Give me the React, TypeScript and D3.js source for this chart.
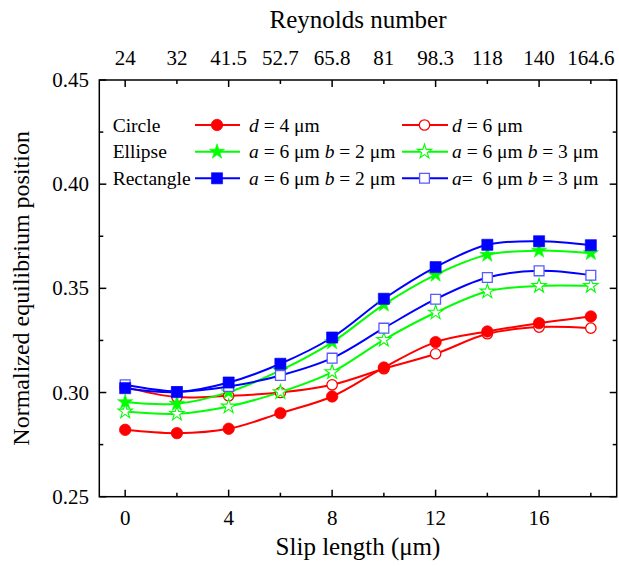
import React from "react";
import * as d3 from "d3";

// Slip length (µm) on the bottom axis, Reynolds number on the top axis
const slipLength = [0, 2, 4, 6, 8, 10, 12, 14, 16, 18];
const reynoldsLabels = ["24", "32", "41.5", "52.7", "65.8", "81", "98.3", "118", "140", "164.6"];

// Normalized equilibrium position for each particle shape
const circleD4 = [0.2821, 0.2805, 0.2826, 0.2901, 0.2981, 0.3120, 0.3242, 0.3293, 0.3333, 0.3365];
const circleD6 = [0.3026, 0.2978, 0.2984, 0.3000, 0.3037, 0.3114, 0.3186, 0.3282, 0.3314, 0.3309];
const ellipseB2 = [0.2954, 0.2946, 0.3002, 0.3106, 0.3241, 0.3422, 0.3565, 0.3661, 0.3681, 0.3669];
const ellipseB3 = [0.2909, 0.2898, 0.2933, 0.3002, 0.3098, 0.3253, 0.3384, 0.3485, 0.3512, 0.3512];
const rectB2 = [0.3021, 0.3002, 0.3048, 0.3138, 0.3264, 0.3450, 0.3602, 0.3709, 0.3726, 0.3707];
const rectB3 = [0.3037, 0.3005, 0.3029, 0.3082, 0.3165, 0.3309, 0.3448, 0.3552, 0.3584, 0.3563];

const yTicks = [0.25, 0.3, 0.35, 0.4, 0.45];
const yAllTicks = [0.25, 0.275, 0.3, 0.325, 0.35, 0.375, 0.4, 0.425, 0.45];
const xMajorTicks = [0, 4, 8, 12, 16];

type Marker = "circle" | "star" | "square";
interface Series {
  values: number[];
  color: string;
  marker: Marker;
  filled: boolean;
}

// drawn in this order: open symbols below the filled ones of each shape
const seriesList: Series[] = [
  { values: circleD6, color: "#ff0000", marker: "circle", filled: false },
  { values: circleD4, color: "#ff0000", marker: "circle", filled: true },
  { values: ellipseB3, color: "#00ff00", marker: "star", filled: false },
  { values: ellipseB2, color: "#00ff00", marker: "star", filled: true },
  { values: rectB3, color: "#0000ff", marker: "square", filled: false },
  { values: rectB2, color: "#0000ff", marker: "square", filled: true },
];

const FONT = "Liberation Serif";
const W = 619;
const H = 566;
const plot = { left: 99.3, right: 616.7, top: 80, bottom: 496.7 };

const x = d3.scaleLinear().domain([-1, 19]).range([plot.left, plot.right]);
const y = d3.scaleLinear().domain([0.25, 0.45]).range([plot.bottom, plot.top]);

const lineGen = d3
  .line<number>()
  .x((_, i) => x(slipLength[i]))
  .y((v) => y(v))
  .curve(d3.curveCatmullRom.alpha(0.5));

const starFilled = d3.symbol(d3.symbolStar, 72)()!;
const starOpen = d3.symbol(d3.symbolStar, 64)()!;
const squareFilled = d3.symbol(d3.symbolSquare, 124)()!;
const squareOpen = d3.symbol(d3.symbolSquare, 96)()!;

function Symbol({ marker, filled, color, cx, cy }: { marker: Marker; filled: boolean; color: string; cx: number; cy: number }) {
  if (marker === "circle") {
    return (
      <circle
        cx={cx}
        cy={cy}
        r={filled ? 5.7 : 5.2}
        fill={filled ? color : "#ffffff"}
        stroke={color}
        strokeWidth={filled ? 0.8 : 1.3}
      />
    );
  }
  if (marker === "star") {
    return (
      <path
        d={filled ? starFilled : starOpen}
        transform={`translate(${cx},${cy})`}
        fill={filled ? color : "#ffffff"}
        stroke={color}
        strokeWidth={filled ? 0.6 : 1.1}
      />
    );
  }
  return (
    <path
      d={filled ? squareFilled : squareOpen}
      transform={`translate(${cx},${cy})`}
      fill={filled ? color : "#ffffff"}
      stroke={filled ? color : "#5a5aff"}
      strokeWidth={filled ? 0.6 : 1.3}
    />
  );
}

// legend content
const legendRowY = [125, 151.7, 178.3];
const groupNames = ["Circle", "Ellipse", "Rectangle"];
const groupColors = ["#ff0000", "#00ff00", "#0000ff"];
const groupMarkers: Marker[] = ["circle", "star", "square"];
const legendCols = [
  { lineA: 195, lineB: 240, mark: 217, text: 249 },
  { lineA: 402, lineB: 448, mark: 424.5, text: 452 },
];

function LegendLabel({ row, col }: { row: number; col: number }) {
  if (row === 0) {
    return (
      <>
        <tspan fontStyle="italic">d</tspan>
        <tspan>{col === 0 ? " = 4 \u03bcm" : " = 6 \u03bcm"}</tspan>
      </>
    );
  }
  const aPart = row === 2 && col === 1 ? "=\u00a0 6 \u03bcm " : " = 6 \u03bcm ";
  return (
    <>
      <tspan fontStyle="italic">a</tspan>
      <tspan>{aPart}</tspan>
      <tspan fontStyle="italic">b</tspan>
      <tspan>{col === 0 ? " = 2 \u03bcm" : " = 3 \u03bcm"}</tspan>
    </>
  );
}

export default function App() {
  return (
    <svg
      width={W}
      height={H}
      fontFamily={FONT}
      style={{ position: "absolute", left: 0, top: 0, background: "#fff", fontFamily: FONT }}
    >
      {/* curves */}
      {seriesList.map((s, k) => (
        <path key={`l${k}`} d={lineGen(s.values)!} fill="none" stroke={s.color} strokeWidth={2} />
      ))}
      {/* symbols */}
      {seriesList.map((s, k) => (
        <g key={`m${k}`}>
          {s.values.map((v, i) => (
            <Symbol key={i} marker={s.marker} filled={s.filled} color={s.color} cx={x(slipLength[i])} cy={y(v)} />
          ))}
        </g>
      ))}

      {/* frame */}
      <rect
        x={plot.left}
        y={plot.top}
        width={plot.right - plot.left}
        height={plot.bottom - plot.top}
        fill="none"
        stroke="#000"
        strokeWidth={1.5}
      />

      {/* inward ticks */}
      <g stroke="#000" strokeWidth={1.5}>
        {slipLength.map((v) => {
          const len = xMajorTicks.includes(v) ? 7 : 4;
          const px = x(v);
          return (
            <g key={`xt${v}`}>
              <line x1={px} x2={px} y1={plot.bottom} y2={plot.bottom - len} />
              <line x1={px} x2={px} y1={plot.top} y2={plot.top + len} />
            </g>
          );
        })}
        {yAllTicks.map((v, k) => {
          const len = k % 2 === 0 ? 7 : 4;
          const py = y(v);
          return (
            <g key={`yt${k}`}>
              <line x1={plot.left} x2={plot.left + len} y1={py} y2={py} />
              <line x1={plot.right} x2={plot.right - len} y1={py} y2={py} />
            </g>
          );
        })}
      </g>

      {/* tick labels */}
      {xMajorTicks.map((v) => (
        <text key={`bx${v}`} x={x(v)} y={525} textAnchor="middle" fontSize={21} fontFamily={FONT}>
          {String(v)}
        </text>
      ))}
      {slipLength.map((v, i) => (
        <text key={`tx${v}`} x={x(v)} y={65} textAnchor="middle" fontSize={21} fontFamily={FONT}>
          {reynoldsLabels[i]}
        </text>
      ))}
      {yTicks.map((v) => (
        <text key={`ly${v}`} x={89} y={y(v) + 7} textAnchor="end" fontSize={21} fontFamily={FONT}>
          {v.toFixed(2)}
        </text>
      ))}

      {/* axis titles */}
      <text x={(plot.left + plot.right) / 2} y={28} textAnchor="middle" fontSize={25} fontFamily={FONT}>
        Reynolds number
      </text>
      <text x={(plot.left + plot.right) / 2} y={555} textAnchor="middle" fontSize={25} fontFamily={FONT}>
        Slip length (μm)
      </text>
      <text
        transform={`translate(28.5,${(plot.top + plot.bottom) / 2}) rotate(-90)`}
        textAnchor="middle"
        fontSize={24}
        fontFamily={FONT}
      >
        Normalized equilibrium position
      </text>

      {/* legend */}
      {legendRowY.map((ry, r) => (
        <g key={`lg${r}`}>
          <text x={112.7} y={ry + 6.5} fontSize={19.5} fontFamily={FONT}>
            {groupNames[r]}
          </text>
          {legendCols.map((c, ci) => (
            <g key={ci}>
              <line x1={c.lineA} x2={c.lineB} y1={ry} y2={ry} stroke={groupColors[r]} strokeWidth={2} />
              <Symbol marker={groupMarkers[r]} filled={ci === 0} color={groupColors[r]} cx={c.mark} cy={ry} />
              <text x={c.text} y={ry + 6.5} fontSize={19.5} fontFamily={FONT}>
                <LegendLabel row={r} col={ci} />
              </text>
            </g>
          ))}
        </g>
      ))}
    </svg>
  );
}
